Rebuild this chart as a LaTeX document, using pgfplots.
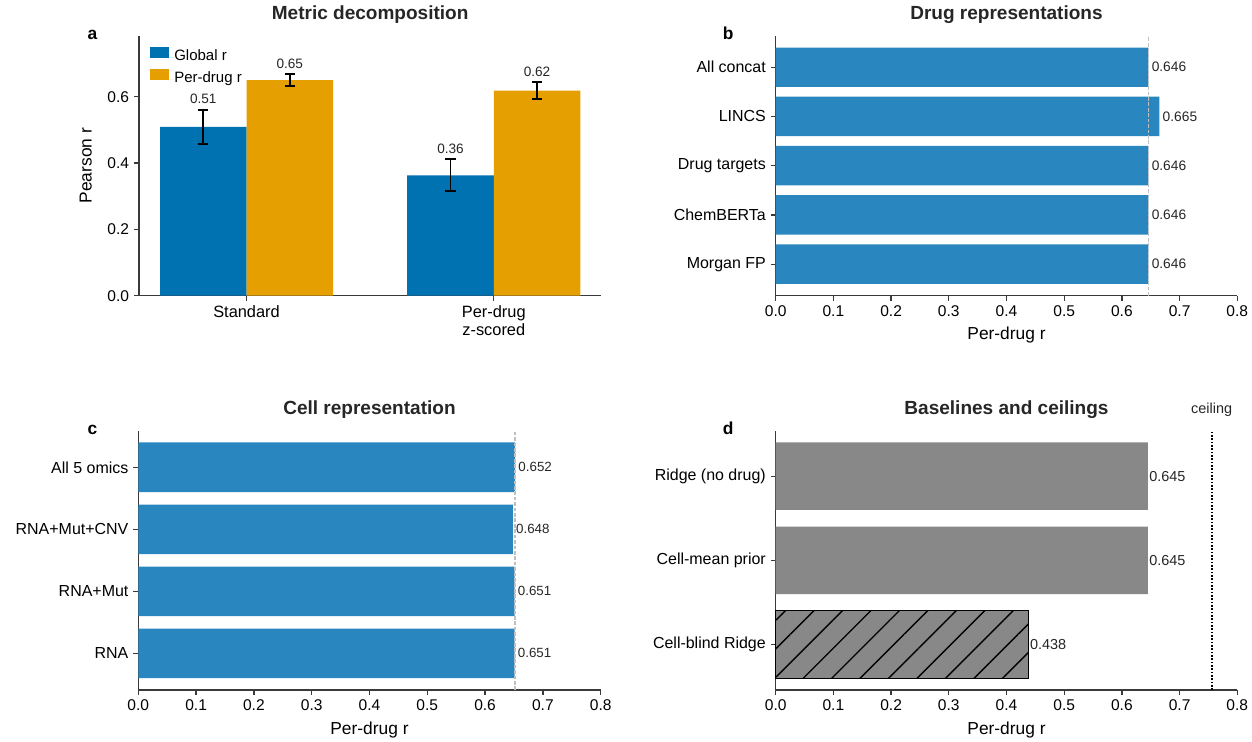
\documentclass[border=0pt]{standalone}
\usepackage{fontspec}
\setmainfont{Liberation Sans}
\usepackage{pgfplots}
\usepackage{pgfplotstable}
\pgfplotsset{compat=1.18}
\usetikzlibrary{patterns.meta}

\definecolor{cBlue}{HTML}{0072B2}
\definecolor{cOrange}{HTML}{E69F00}
\definecolor{cBar}{HTML}{2A86BE}
\definecolor{cGray}{HTML}{888888}
\definecolor{cSpine}{HTML}{3A3A3A}
\definecolor{cRef}{HTML}{C0C0C0}
\definecolor{cText}{HTML}{262626}

% (a) mean r and its spread over folds
\pgfplotstableread{
x  r      err
0  0.509  0.052
1  0.363  0.048
}\globalr
\pgfplotstableread{
x  r      err
0  0.650  0.0185
1  0.618  0.026
}\perdrugr

% (b) drug representations, bottom to top
\pgfplotstableread{
y  r
0  0.646
1  0.646
2  0.646
3  0.665
4  0.646
}\drugrep

% (c) cell representations, bottom to top
\pgfplotstableread{
y  r
0  0.651
1  0.651
2  0.648
3  0.652
}\cellrep

% (d) baselines
\pgfplotstableread{
y  r
1  0.645
2  0.645
}\baselines
\pgfplotstableread{
y  r
0  0.438
}\cellblind

\tikzset{
  letter/.style={anchor=base west, font=\bfseries\fontsize{12.5}{14}\selectfont,
    text=black, yshift=-2.6pt},
}

\pgfplotsset{
  /pgf/number format/assume math mode=true,
  panel/.style={
    scale only axis, clip=false, anchor=south west,
    axis lines=left,
    axis line style={-, draw=cSpine, line width=0.9pt},
    tick align=outside,
    major tick length=3.6pt,
    tick style={draw=cSpine, line width=0.9pt},
    tick label style={font=\fontsize{11.2}{13.4}\selectfont, text=black},
    label style={font=\fontsize{12.5}{15}\selectfont, text=black},
    title style={font=\bfseries\fontsize{13.7}{16}\selectfont, text=cText,
      anchor=base, at={(0.5,1)}, yshift=5.4pt},
  },
  hpanel/.style={
    panel,
    width=332.35pt,
    xmin=0, xmax=0.8,
    xtick={0,0.1,0.2,0.3,0.4,0.5,0.6,0.7,0.8},
    xticklabel style={/pgf/number format/.cd, fixed, fixed zerofill, precision=1},
    yticklabel style={font=\fontsize{11.5}{13.4}\selectfont},
    xlabel={Per-drug r},
    xlabel style={at={(axis description cs:0.5,0)}, anchor=base, yshift=-31.7pt},
  },
  errbars/.style={forget plot, draw=none, mark=none,
    error bars/.cd, y dir=both, y explicit,
    error bar style={draw=black, line width=1.4pt},
    error mark options={rotate=90, mark size=3.7pt, draw=black, line width=1.4pt}},
  toplabel/.style={forget plot, draw=none, mark=none, point meta=explicit,
    nodes near coords={\pgfmathprintnumber[fixed,fixed zerofill,precision=2]{\pgfplotspointmeta}},
    every node near coord/.append style={anchor=south, inner sep=0pt, yshift=4pt,
      font=\fontsize{9.8}{11}\selectfont, text=cText}},
}

\begin{document}
\begin{tikzpicture}
\path[use as bounding box] (0,0) rectangle (901.44pt,533.52pt);

% ---------------- (a) Metric decomposition ----------------
\begin{axis}[panel,
  at={(100.08pt,320.62pt)}, width=332.86pt, height=187.2pt,
  xmin=-0.435, xmax=1.435, ymin=0, ymax=0.784,
  xtick={0,1}, xticklabels={Standard, {Per-drug\\z-scored}},
  xticklabel style={align=center, font=\fontsize{11.8}{13.2}\selectfont},
  ytick={0,0.2,0.4,0.6},
  yticklabel style={/pgf/number format/.cd, fixed, fixed zerofill, precision=1},
  ylabel={Pearson r},
  ylabel style={at={(axis description cs:0,0.5)}, anchor=base, yshift=34.2pt},
  title={Metric decomposition},
  legend style={draw=none, fill=none, at={(0,1)}, anchor=north west,
    xshift=7.9pt, yshift=-8.2pt, inner sep=0pt, row sep=3.8pt,
    font=\fontsize{10.8}{12}\selectfont,
    nodes={inner sep=0pt, text height=7.7pt, text depth=2pt}},
  legend cell align=left,
]
\addplot[ybar, bar width=0.35, bar shift=-0.175, fill=cBlue, draw=none,
  legend image code/.code={\fill[cBlue] (0pt,-0.8pt) rectangle (13.7pt,6.9pt);
    \path (0pt,0pt) rectangle (17.3pt,0pt);}]
  table[x=x, y=r] {\globalr};
\addlegendentry{Global r}
\addplot[ybar, bar width=0.35, bar shift=0.175, fill=cOrange, draw=none,
  legend image code/.code={\fill[cOrange] (0pt,-0.8pt) rectangle (13.7pt,6.9pt);
    \path (0pt,0pt) rectangle (17.3pt,0pt);}]
  table[x=x, y=r] {\perdrugr};
\addlegendentry{Per-drug r}
% error bars at the centre of each bar
\addplot[errbars] table[x expr=\thisrow{x}-0.175, y=r, y error=err] {\globalr};
\addplot[errbars] table[x expr=\thisrow{x}+0.175, y=r, y error=err] {\perdrugr};
% value labels above the error bars
\addplot[toplabel]
  table[x expr=\thisrow{x}-0.175, y expr=\thisrow{r}+\thisrow{err}, meta=r] {\globalr};
\addplot[toplabel]
  table[x expr=\thisrow{x}+0.175, y expr=\thisrow{r}+\thisrow{err}, meta=r] {\perdrugr};
\node[letter, xshift=-40.5pt] at (rel axis cs:0,1) {a};
\end{axis}

% ---------------- (b) Drug representations ----------------
\begin{axis}[hpanel,
  at={(558.5pt,320.62pt)}, height=187.2pt,
  ymin=-0.64, ymax=4.64,
  ytick={0,1,2,3,4},
  yticklabels={Morgan FP, ChemBERTa, Drug targets, LINCS, All concat},
  title={Drug representations},
]
\addplot[xbar, bar width=0.8, bar shift=0pt, fill=cBar, draw=none, point meta=x,
  nodes near coords={\pgfmathprintnumber[fixed,fixed zerofill,precision=3]{\pgfplotspointmeta}},
  every node near coord/.append style={anchor=west, inner sep=0pt, xshift=2.2pt,
    font=\fontsize{9.9}{11}\selectfont, text=cText}]
  table[x=r, y=y] {\drugrep};
\addplot[mark=none, draw=cRef, line width=1pt, dash pattern=on 2.6pt off 1.3pt]
  coordinates {(0.646,-0.64) (0.646,4.64)};
\node[letter, xshift=-41.5pt] at (rel axis cs:0,1) {b};
\end{axis}

% ---------------- (c) Cell representation ----------------
\begin{axis}[hpanel,
  at={(99.58pt,36.72pt)}, width=332.9pt, height=186.7pt,
  ymin=-0.59, ymax=3.59,
  ytick={0,1,2,3},
  yticklabels={RNA, RNA+Mut, RNA+Mut+CNV, All 5 omics},
  title={Cell representation},
]
\addplot[xbar, bar width=0.8, bar shift=0pt, fill=cBar, draw=none, point meta=x,
  nodes near coords={\pgfmathprintnumber[fixed,fixed zerofill,precision=3]{\pgfplotspointmeta}},
  every node near coord/.append style={anchor=west, inner sep=0pt, xshift=2.2pt,
    font=\fontsize{9.6}{11}\selectfont, text=cText}]
  table[x=r, y=y] {\cellrep};
\addplot[mark=none, draw=cRef, line width=1pt, dash pattern=on 2.6pt off 1.3pt]
  coordinates {(0.652,-0.59) (0.652,3.59)};
\node[letter, xshift=-40pt] at (rel axis cs:0,1) {c};
\end{axis}

% ---------------- (d) Baselines and ceilings ----------------
\begin{axis}[hpanel,
  at={(558.5pt,36.72pt)}, height=186.7pt,
  ymin=-0.54, ymax=2.54,
  ytick={0,1,2},
  yticklabels={Cell-blind Ridge, Cell-mean prior, Ridge (no drug)},
  title={Baselines and ceilings},
]
\addplot[xbar, bar width=0.8, bar shift=0pt, fill=cGray, draw=none, point meta=x,
  nodes near coords={\pgfmathprintnumber[fixed,fixed zerofill,precision=3]{\pgfplotspointmeta}},
  every node near coord/.append style={anchor=west, inner sep=0pt, xshift=0.8pt,
    font=\fontsize{10.4}{12}\selectfont, text=cText}]
  table[x=r, y=y] {\baselines};
\addplot[xbar, bar width=0.8, bar shift=0pt, fill=cGray, draw=black, line width=0.8pt,
  postaction={pattern color=black, pattern={Lines[angle=45,distance=14.5pt,line width=1pt]}},
  point meta=x,
  nodes near coords={\pgfmathprintnumber[fixed,fixed zerofill,precision=3]{\pgfplotspointmeta}},
  every node near coord/.append style={anchor=west, inner sep=0pt, xshift=0.8pt,
    font=\fontsize{10.4}{12}\selectfont, text=cText}]
  table[x=r, y=y] {\cellblind};
% ceiling
\addplot[mark=none, draw=black, line width=1.2pt, dash pattern=on 1.2pt off 1.2pt]
  coordinates {(0.7556,-0.54) (0.7556,2.54)};
\node[anchor=base, yshift=12.5pt, font=\fontsize{10.4}{12}\selectfont, text=cText]
  at (axis cs:0.7556,2.54) {ceiling};
\node[letter, xshift=-41.5pt] at (rel axis cs:0,1) {d};
\end{axis}
\end{tikzpicture}
\end{document}
